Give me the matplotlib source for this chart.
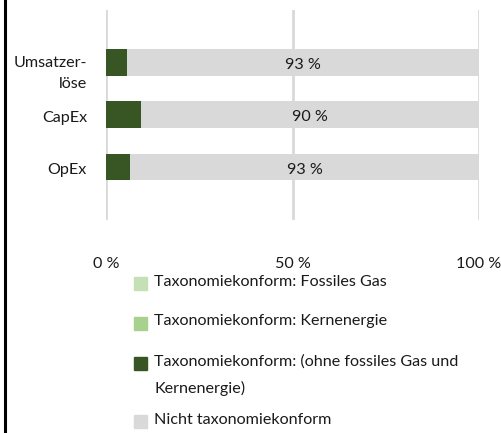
import matplotlib
matplotlib.use("Agg")
import matplotlib.pyplot as plt
from matplotlib.patches import Rectangle
from matplotlib.lines import Line2D
import matplotlib.transforms as mtransforms

categories = ["Umsatzer-\nlöse", "CapEx", "OpEx"]
fossil_gas = [0.0, 0.0, 0.0]
nuclear = [0.0, 0.0, 0.0]
aligned_other = [5.7, 9.4, 6.5]
not_aligned = [94.3, 90.6, 93.5]
not_aligned_labels = ["93 %", "90 %", "93 %"]
xticks = [0, 50, 100]
xtick_labels = ["0 %", "50 %", "100 %"]
legend_labels = ["Taxonomiekonform: Fossiles Gas",
                 "Taxonomiekonform: Kernenergie",
                 "Taxonomiekonform: (ohne fossiles Gas und\nKernenergie)",
                 "Nicht taxonomiekonform"]

c_gas = "#c5e0b4"
c_nuc = "#a9d18e"
c_dark = "#375623"
c_grey = "#d9d9d9"
colors = [c_gas, c_nuc, c_dark, c_grey]
TXT = "#1a1a1a"

plt.rcParams['font.family'] = ['Lato', 'DejaVu Sans']
FS = 11.6
W, H = 501, 433
fig = plt.figure(figsize=(W / 100, H / 100), dpi=100)
ax = fig.add_axes([106 / W, 1 - 220 / H, 373 / W, 210 / H])

y = list(range(len(categories)))
left = [0.0] * len(y)
for vals, col in zip([fossil_gas, nuclear, aligned_other, not_aligned], colors):
    ax.barh(y, vals, left=left, height=0.51, color=col, zorder=3)
    left = [l + v for l, v in zip(left, vals)]

val_tr = mtransforms.offset_copy(ax.transData, fig=fig, x=0, y=-2.5, units='dots')
for i in y:
    start = fossil_gas[i] + nuclear[i] + aligned_other[i]
    ax.text(start + not_aligned[i] / 2, i, not_aligned_labels[i], ha='center',
            va='center', fontsize=FS, color=TXT, zorder=4, transform=val_tr)

ax.set_xlim(0, 100)
ax.set_ylim(3.011, -1.004)
ax.set_xticks(xticks)
ax.set_xticklabels(xtick_labels, fontsize=FS, color=TXT)
ax.tick_params(axis='x', length=0, pad=27)
ax.set_yticks([])
ax.grid(axis='x', color=c_grey, linewidth=2, zorder=0)
for s in ax.spines.values():
    s.set_visible(False)

offs = [11, 3, 3]
for i, lab in enumerate(categories):
    tr = mtransforms.offset_copy(ax.transData, fig=fig, x=0, y=-offs[i], units='dots')
    tr = mtransforms.blended_transform_factory(
        mtransforms.offset_copy(ax.transAxes, fig=fig, x=-19, y=0, units='dots'), tr)
    ax.text(0, i, lab, ha='right', va='center', fontsize=FS, color=TXT,
            transform=tr, linespacing=1.58, multialignment='right')

# legend (drawn manually in pixel coordinates)
leg_y = [283.5, 323, 363, 421.5]
for lab, col, yy in zip(legend_labels, colors, leg_y):
    fig.add_artist(Rectangle((134 / W, 1 - (yy + 6.5) / H), 13 / W, 13 / H,
                             transform=fig.transFigure, color=col))
    fig.text(154 / W, 1 - (yy - 9) / H, lab, ha='left', va='top', fontsize=FS,
             color=TXT, linespacing=2.05)

fig.add_artist(Line2D([4.5 / W, 4.5 / W], [0, 1], transform=fig.transFigure,
                      color='black', linewidth=2.2))

fig.savefig("out.png", dpi=100)
